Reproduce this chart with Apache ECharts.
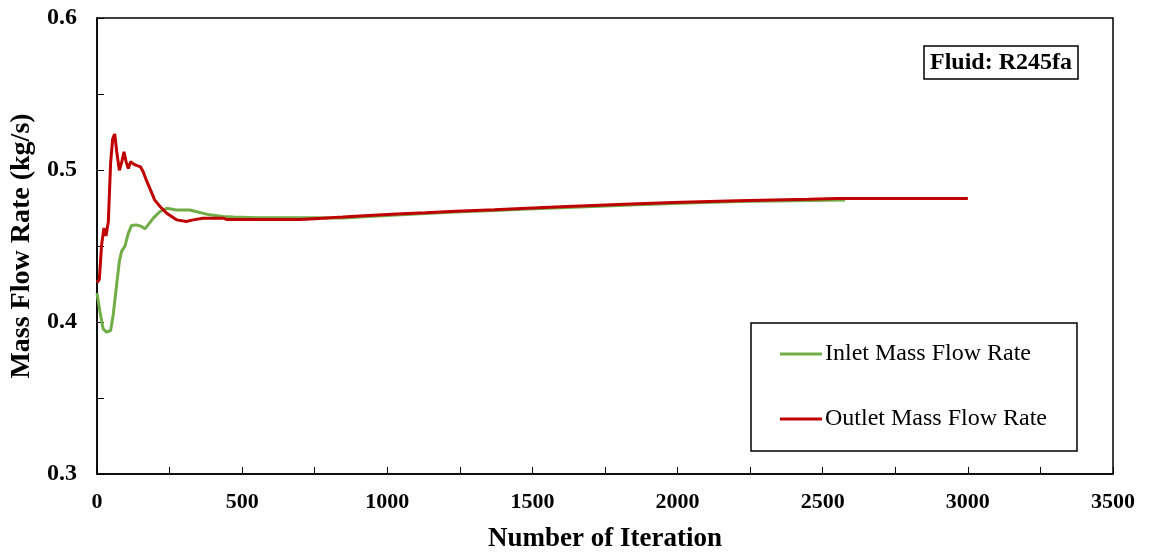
<!DOCTYPE html>
<html>
<head>
<meta charset="utf-8">
<script src="https://cdn.jsdelivr.net/npm/echarts@6/dist/echarts.min.js"></script>
<style>
  html, body { margin: 0; padding: 0; background: #fff; }
  #chart { width: 1150px; height: 558px; }
</style>
</head>
<body>
<div id="chart"></div>
<script>
// Iteration history of the inlet mass flow rate (kg/s)
const inletIter = [0, 10, 21, 33, 47, 56, 68, 77, 85, 96, 108, 119, 136, 153, 165, 176, 194, 217, 240, 274, 320, 354, 388, 434, 469, 550, 750,
  847, 935, 1032, 1130, 1235, 1368, 1482, 1597, 1730, 1862, 2012, 2206, 2451, 2577];
const inletRate = [0.419, 0.407, 0.3955, 0.3933, 0.3944, 0.405, 0.425, 0.440, 0.4466, 0.4498, 0.4585, 0.4635, 0.4639, 0.4629, 0.4613, 0.4639, 0.4683, 0.4727, 0.4748, 0.4737, 0.4737, 0.472, 0.4705, 0.4694, 0.469, 0.4686, 0.4686,
  0.4685, 0.4694, 0.4704, 0.4713, 0.4723, 0.4733, 0.4743, 0.4752, 0.4762, 0.4772, 0.4782, 0.4792, 0.4800, 0.4802];

// Iteration history of the outlet mass flow rate (kg/s)
const outletIter = [0, 8, 16, 24, 31, 39, 47, 54, 61, 68, 77, 85, 93, 100, 108, 116, 125, 136, 150, 159, 170, 182, 199, 217, 240, 274, 308, 331, 365, 434, 446, 700,
  750, 847, 935, 1032, 1130, 1235, 1368, 1482, 1597, 1730, 1862, 2012, 2206, 2451, 2550, 3000];
const outletRate = [0.4259, 0.428, 0.451, 0.4618, 0.4566, 0.466, 0.505, 0.5205, 0.5237, 0.512, 0.4998, 0.505, 0.512, 0.5055, 0.501, 0.5055, 0.504, 0.503, 0.502, 0.4988, 0.4933, 0.4879, 0.4802, 0.476, 0.4716, 0.4672, 0.4661, 0.4672, 0.4683, 0.4683, 0.4675, 0.4675,
  0.4680, 0.4690, 0.4700, 0.4710, 0.4719, 0.4729, 0.4739, 0.4749, 0.4758, 0.4768, 0.4778, 0.4788, 0.4798, 0.4807, 0.4812, 0.4813];

const seriesNames = ['Inlet Mass Flow Rate', 'Outlet Mass Flow Rate'];
const fluidLabel = 'Fluid: R245fa';

const pairs = (xs, ys) => xs.map((x, i) => [x, ys[i]]);

const serif = '"Liberation Serif", "Times New Roman", serif';
const chart = echarts.init(document.getElementById('chart'), null, { renderer: 'canvas' });

chart.setOption({
  backgroundColor: '#fff',
  animation: false,
  title: {
    text: fluidLabel,
    left: 924,
    top: 46,
    padding: [4, 6, 3, 6],
    borderColor: '#000',
    borderWidth: 1.5,
    textStyle: { fontFamily: serif, fontWeight: 'bold', fontSize: 24, color: '#000', lineHeight: 26 }
  },
  legend: {
    orient: 'vertical',
    left: 751,
    top: 323,
    padding: [19, 30, 20, 29],
    itemGap: 41,
    itemWidth: 42,
    itemHeight: 3,
    icon: 'rect',
    borderColor: '#000',
    borderWidth: 1.5,
    data: seriesNames,
    textStyle: { fontFamily: serif, fontSize: 24, color: '#000', lineHeight: 24, padding: [0, 0, 0, -2] }
  },
  grid: {
    left: 97, right: 37, top: 18, bottom: 80,
    show: true, borderColor: '#000', borderWidth: 1.5
  },
  xAxis: {
    type: 'value',
    min: 0, max: 3500, interval: 250,
    name: 'Number of Iteration',
    nameLocation: 'middle',
    nameGap: 52,
    nameTextStyle: { fontFamily: serif, fontWeight: 'bold', fontSize: 27, color: '#000' },
    axisLine: { lineStyle: { color: '#000', width: 1.5 } },
    axisTick: { inside: true, length: 7, lineStyle: { color: '#000' } },
    axisLabel: {
      margin: 17,
      fontFamily: serif, fontWeight: 'bold', fontSize: 22, color: '#000',
      formatter: v => (v % 500 === 0 ? String(v) : '')
    },
    splitLine: { show: false }
  },
  yAxis: {
    type: 'value',
    min: 0.3, max: 0.6, interval: 0.05,
    name: 'Mass Flow Rate (kg/s)',
    nameLocation: 'middle',
    nameGap: 55,
    nameTextStyle: { fontFamily: serif, fontWeight: 'bold', fontSize: 28, color: '#000' },
    axisLine: { lineStyle: { color: '#000', width: 1.5 } },
    axisTick: { inside: true, length: 7, lineStyle: { color: '#000' } },
    axisLabel: {
      margin: 20,
      fontFamily: serif, fontWeight: 'bold', fontSize: 24, color: '#000',
      formatter: v => (Math.round(v * 100) % 10 === 0 ? v.toFixed(1) : '')
    },
    splitLine: { show: false }
  },
  series: [
    {
      name: seriesNames[0],
      type: 'line',
      data: pairs(inletIter, inletRate),
      symbol: 'none',
      color: '#70AD47',
      lineStyle: { width: 3, color: '#70AD47' }
    },
    {
      name: seriesNames[1],
      type: 'line',
      data: pairs(outletIter, outletRate),
      symbol: 'none',
      color: '#C00000',
      lineStyle: { width: 3, color: '#C00000' }
    }
  ]
});
</script>
</body>
</html>
